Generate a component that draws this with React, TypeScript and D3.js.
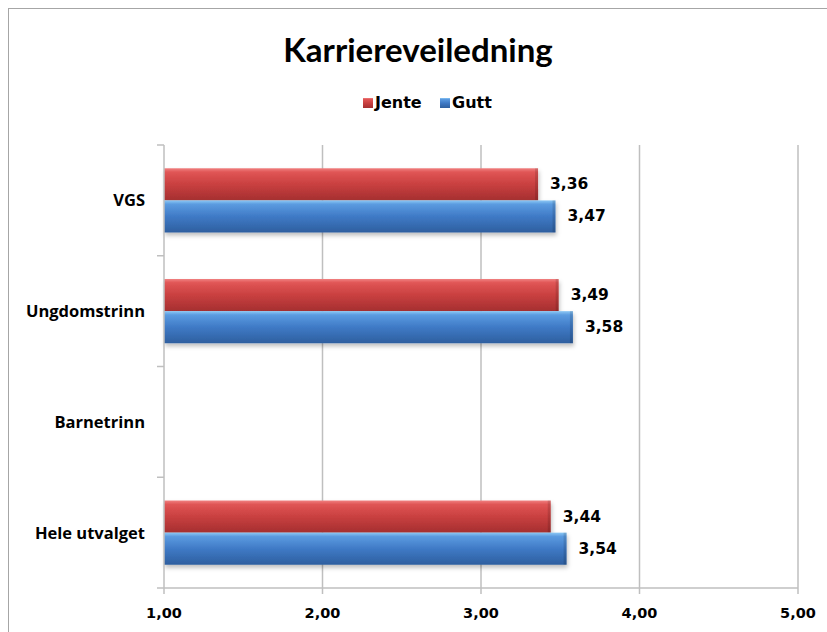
import * as d3 from 'd3';

const categories = ['VGS', 'Ungdomstrinn', 'Barnetrinn', 'Hele utvalget'];
const jente: (number | null)[] = [3.36, 3.49, null, 3.44];
const gutt: (number | null)[] = [3.47, 3.58, null, 3.54];
const series = [
  { name: 'Jente', values: jente, id: 'red' },
  { name: 'Gutt', values: gutt, id: 'blue' },
];
const xTicks = [1, 2, 3, 4, 5];

const W = 827;
const H = 632;
const plot = { left: 164, right: 798, top: 145, bottom: 588 };

const fmt = (v: number) => d3.format('.2f')(v).replace('.', ',');

export default function App() {
  const x = d3.scaleLinear().domain([1, 5]).range([plot.left, plot.right]);
  const y0 = d3.scaleBand().domain(categories).range([plot.top, plot.bottom]);
  const y1 = d3
    .scaleBand()
    .domain(series.map(s => s.name))
    .range([y0.bandwidth() * 0.21, y0.bandwidth() * 0.79]);

  return (
    <svg width={W} height={H} style={{ position: 'absolute', left: 0, top: 0, background: '#fff' }}>
      <defs>
        <linearGradient id="red" x1="0" y1="0" x2="0" y2="1">
          <stop offset="0" stopColor="#f08080" />
          <stop offset="0.12" stopColor="#e05555" />
          <stop offset="0.5" stopColor="#c94040" />
          <stop offset="1" stopColor="#a52f30" />
        </linearGradient>
        <linearGradient id="blue" x1="0" y1="0" x2="0" y2="1">
          <stop offset="0" stopColor="#8cc8f5" />
          <stop offset="0.12" stopColor="#5b9be0" />
          <stop offset="0.5" stopColor="#3f7ac6" />
          <stop offset="1" stopColor="#2e5f9f" />
        </linearGradient>
        <filter id="shadow" x="-5%" y="-20%" width="110%" height="160%">
          <feDropShadow dx="1" dy="3" stdDeviation="2" floodColor="#000" floodOpacity="0.25" />
        </filter>
      </defs>
      <rect x={8.5} y={8.5} width={W} height={H} fill="#fff" stroke="#a6a6a6" />

      <text
        x={418}
        y={62}
        textAnchor="middle"
        fontFamily="Lato, 'Open Sans', sans-serif"
        fontWeight="bold"
        fontSize={33}
        fill="#000"
      >
        Karriereveiledning
      </text>

      {/* legend */}
      <g fontFamily="'DejaVu Sans', Verdana, sans-serif" fontWeight="bold" fontSize={16}>
        <rect x={363} y={98} width={10} height={10} fill="url(#red)" />
        <text x={375} y={108}>Jente</text>
        <rect x={440} y={98} width={10} height={10} fill="url(#blue)" />
        <text x={452} y={108}>Gutt</text>
      </g>

      {/* gridlines */}
      {xTicks.slice(1).map(t => (
        <line key={t} x1={x(t)} x2={x(t)} y1={plot.top} y2={plot.bottom} stroke="#bfbfbf" strokeWidth={1.5} />
      ))}

      {/* bars */}
      {categories.map((c, ci) => (
        <g key={c} transform={`translate(0,${y0(c)})`}>
          {series.map(s => {
            const v = s.values[ci];
            if (v == null) return null;
            const yy = y1(s.name)!;
            const h = y1.bandwidth();
            const xe = x(v);
            return (
              <g key={s.name}>
                <rect
                  x={x(1)}
                  y={yy}
                  width={xe - x(1)}
                  height={h}
                  fill={`url(#${s.id})`}
                  filter="url(#shadow)"
                />
                <rect x={xe - 3} y={yy} width={3} height={h} fill="#000" opacity={0.12} />
                <text
                  x={xe + 12}
                  y={yy + h / 2 + 5}
                  fontFamily="'DejaVu Sans', Verdana, sans-serif"
                  fontWeight="bold"
                  fontSize={15.5}
                  fill="#000"
                >
                  {fmt(v)}
                </text>
              </g>
            );
          })}
        </g>
      ))}

      {/* y axis */}
      <line x1={plot.left} x2={plot.left} y1={plot.top} y2={plot.bottom} stroke="#bfbfbf" strokeWidth={1.5} />
      {[...categories.map(c => y0(c)!), plot.bottom].map((yv, i) => (
        <line key={i} x1={plot.left - 7} x2={plot.left} y1={yv} y2={yv} stroke="#bfbfbf" strokeWidth={1.5} />
      ))}
      {categories.map(c => (
        <text
          key={c}
          x={145}
          y={y0(c)! + y0.bandwidth() / 2 + 6}
          textAnchor="end"
          fontFamily="'Open Sans', Lato, sans-serif"
          fontWeight="bold"
          fontSize={16.5}
          fill="#000"
        >
          {c}
        </text>
      ))}

      {/* x axis */}
      <line x1={plot.left} x2={plot.right} y1={plot.bottom} y2={plot.bottom} stroke="#bfbfbf" strokeWidth={1.5} />
      {xTicks.map(t => (
        <g key={t}>
          <line x1={x(t)} x2={x(t)} y1={plot.bottom} y2={plot.bottom + 6} stroke="#bfbfbf" strokeWidth={1.5} />
          <text
            x={x(t)}
            y={plot.bottom + 30}
            textAnchor="middle"
            fontFamily="'DejaVu Sans', Verdana, sans-serif"
            fontWeight="bold"
            fontSize={14.5}
            fill="#000"
          >
            {fmt(t)}
          </text>
        </g>
      ))}
    </svg>
  );
}
